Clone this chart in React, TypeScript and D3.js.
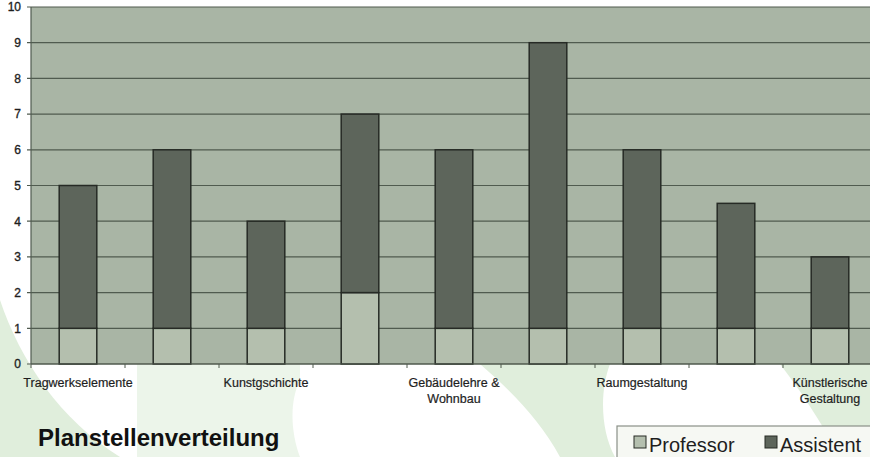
import React from "react";
import * as d3 from "d3";

const categoryLabels: string[][] = [
  ["Tragwerkselemente"],
  [],
  ["Kunstgschichte"],
  [],
  ["Gebäudelehre &", "Wohnbau"],
  [],
  ["Raumgestaltung"],
  [],
  ["Künstlerische", "Gestaltung"],
];
const professorValues = [1, 1, 1, 2, 1, 1, 1, 1, 1];
const assistentValues = [4, 5, 3, 5, 5, 8, 5, 3.5, 2];
const yTicks = [0, 1, 2, 3, 4, 5, 6, 7, 8, 9, 10];
const seriesNames = ["Professor", "Assistent"];
const title = "Planstellenverteilung";

const W = 870;
const H = 457;
const plot = { left: 31, right: 877, top: 7, bottom: 364 };

const colors = {
  plotBg: "#a9b5a5",
  grid: "#505b4f",
  professor: "#b4bfae",
  assistent: "#5d655b",
  outline: "#262a25",
  text: "#1e1e1e",
  wash: "#e0eedc",
};

export default function App() {
  const idx = categoryLabels.map((_, i) => String(i));
  const x = d3
    .scaleBand<string>()
    .domain(idx)
    .range([plot.left, plot.right])
    .paddingInner(0.6)
    .paddingOuter(0.3);
  const y = d3.scaleLinear().domain([0, 10]).range([plot.bottom, plot.top]);

  const rows = idx.map((k, i) => ({
    key: k,
    Professor: professorValues[i],
    Assistent: assistentValues[i],
  }));
  const stack = d3.stack<any>().keys(seriesNames)(rows);
  const fills = [colors.professor, colors.assistent];

  const step = x.step();
  const boundaries = d3.range(categoryLabels.length + 1).map((i) => plot.left + i * step);

  return (
    <svg
      width={W}
      height={H}
      style={{ position: "absolute", left: 0, top: 0, background: "#ffffff" }}
      fontFamily="'Liberation Sans', Arial, sans-serif"
    >
      {/* faint page watermark */}
      <path d={`M0,300 C20,360 60,420 120,457 L0,457 Z`} fill={colors.wash} />
      <path
        d={`M137,364 L300,364 L300,380 C290,400 290,430 300,457 L137,457 Z`}
        fill={colors.wash}
        opacity={0.6}
      />
      <path
        d={`M480,364 L610,364 C600,390 600,430 615,457 L560,457 C540,420 510,390 480,364 Z`}
        fill={colors.wash}
      />
      <path
        d={`M780,364 L870,364 L870,457 L840,457 C820,420 800,390 780,364 Z`}
        fill={colors.wash}
      />

      {/* plot background */}
      <rect
        x={plot.left}
        y={plot.top}
        width={plot.right - plot.left}
        height={plot.bottom - plot.top}
        fill={colors.plotBg}
      />

      {/* grid lines */}
      {yTicks.map((t) => (
        <line
          key={"g" + t}
          x1={plot.left - 4}
          x2={plot.right}
          y1={y(t)}
          y2={y(t)}
          stroke={colors.grid}
          strokeWidth={1.2}
        />
      ))}

      {/* y axis */}
      <line x1={plot.left} x2={plot.left} y1={plot.top} y2={plot.bottom} stroke={colors.grid} strokeWidth={1.2} />
      {yTicks.map((t) => (
        <text
          key={"yl" + t}
          x={21}
          y={y(t)}
          dy="0.36em"
          textAnchor="end"
          fontSize={12}
          fill={colors.text}
          stroke={colors.text}
          strokeWidth={0.35}
        >
          {t}
        </text>
      ))}

      {/* bars */}
      {stack.map((layer, si) => (
        <g key={layer.key}>
          {layer.map((d, i) => (
            <rect
              key={i}
              x={x(idx[i])}
              y={y(d[1])}
              width={x.bandwidth()}
              height={y(d[0]) - y(d[1])}
              fill={fills[si]}
              stroke={colors.outline}
              strokeWidth={1.5}
            />
          ))}
        </g>
      ))}

      {/* x axis */}
      <line x1={plot.left} x2={plot.right} y1={plot.bottom} y2={plot.bottom} stroke={colors.grid} strokeWidth={1.2} />
      {boundaries.map((bx, i) => (
        <line key={"xt" + i} x1={bx} x2={bx} y1={plot.bottom} y2={plot.bottom + 4} stroke={colors.grid} strokeWidth={1} />
      ))}
      {categoryLabels.map((lines, i) => (
        <text
          key={"xl" + i}
          x={(x(idx[i]) as number) + x.bandwidth() / 2}
          y={387}
          textAnchor="middle"
          fontSize={12.5}
          fill={colors.text}
          stroke={colors.text}
          strokeWidth={0.2}
        >
          {lines.map((ln, j) => (
            <tspan key={j} x={(x(idx[i]) as number) + x.bandwidth() / 2} dy={j === 0 ? 0 : 16}>
              {ln}
            </tspan>
          ))}
        </text>
      ))}

      {/* title */}
      <text x={38} y={446} fontSize={24} fontWeight="bold" fill="#111">
        {title}
      </text>

      {/* legend */}
      <rect x={617} y={426} width={262} height={40} fill="#f6f8f3" stroke="#8a9088" strokeWidth={1.2} />
      {seriesNames.map((name, i) => {
        const lx = 634 + i * 131;
        return (
          <g key={name}>
            <rect x={lx} y={436} width={12} height={12} fill={fills[i]} stroke={colors.outline} strokeWidth={1} />
            <text x={lx + 15} y={452} fontSize={20} fill={colors.text}>
              {name}
            </text>
          </g>
        );
      })}
    </svg>
  );
}
